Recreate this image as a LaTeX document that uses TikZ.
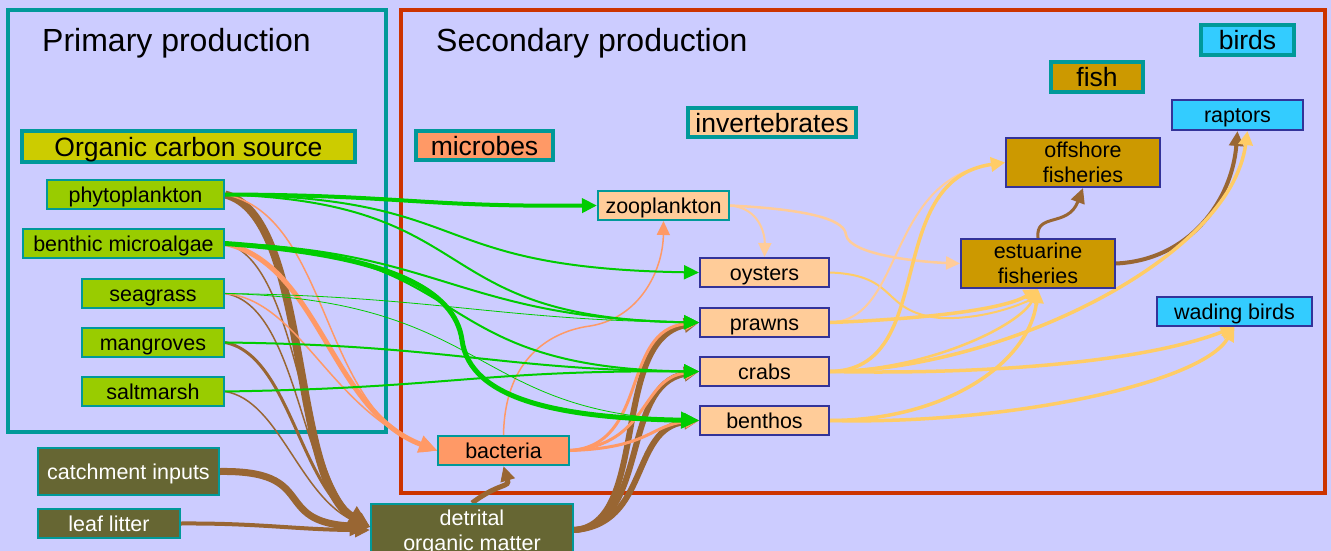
\documentclass[tikz,border=0pt]{standalone}
\usepackage{fontspec}
\setmainfont{Liberation Sans}
\usetikzlibrary{arrows.meta}
\definecolor{bgc}{HTML}{CCCCFF}
\definecolor{tealc}{HTML}{009999}
\definecolor{redc}{HTML}{CC3300}
\definecolor{srcg}{HTML}{99CC00}
\definecolor{ocsc}{HTML}{CCCC00}
\definecolor{salm}{HTML}{FF9966}
\definecolor{peach}{HTML}{FFCC99}
\definecolor{fishc}{HTML}{CC9900}
\definecolor{birdc}{HTML}{33CCFF}
\definecolor{olivc}{HTML}{666633}
\definecolor{bluec}{HTML}{333399}
\definecolor{greenl}{HTML}{00CC00}
\definecolor{brownl}{HTML}{996633}
\definecolor{yell}{HTML}{FFCC66}
\pgfdeclarelayer{frames}
\pgfdeclarelayer{edges}
\pgfsetlayers{frames,edges,main}
\tikzset{
  nd/.style={draw, line width=2pt, inner sep=0pt, text=black, align=center,
    font=\fontsize{21.5}{25}\selectfont},
  one/.style={text height=15.5pt, text depth=0pt},
  src/.style={nd, one, fill=srcg, draw=tealc},
  ext/.style={nd, fill=olivc, draw=tealc, text=white},
  mic/.style={nd, one, fill=salm, draw=tealc},
  inv/.style={nd, one, fill=peach, draw=bluec},
  fsh/.style={nd, fill=fishc, draw=bluec},
  brd/.style={nd, one, fill=birdc, draw=bluec},
  cat/.style={draw=tealc, line width=3.5pt, inner sep=0pt, text=black,
    font=\fontsize{26.5}{30}\selectfont, text height=19pt, text depth=0pt},
  head/.style={inner sep=0pt, anchor=west, font=\fontsize{32}{38}\selectfont,
    text height=23pt, text depth=0pt},
  gE/.style={draw=greenl, line width=2pt, -{Triangle[length=15pt,width=14pt]}},
  sE/.style={draw=salm, line width=2pt, -{Triangle[length=14pt,width=13pt]}},
  bE/.style={draw=brownl, line width=3pt, -{Triangle[length=15pt,width=14pt]}},
  yE/.style={draw=yell, line width=3.5pt, -{Triangle[length=14pt,width=14pt]}},
  pE/.style={draw=peach, line width=2.5pt, -{Triangle[length=14pt,width=13pt]}},
}
\begin{document}
\begin{tikzpicture}[x=1pt,y=-1pt]
\useasboundingbox (0,0) rectangle (1331,551);

% nodes
\node[head] (hprim) at (42,40) {Primary production};
\node[head] (hsec) at (436,40) {Secondary production};
\node[cat, fill=ocsc, minimum width=333pt, minimum height=31pt] (ocs) at (188.5,146.5) {Organic carbon source};
\node[cat, fill=salm, minimum width=137pt, minimum height=29pt] (microbes) at (484.5,145.5) {microbes};
\node[cat, fill=peach, minimum width=168pt, minimum height=29pt] (invert) at (772,122.5) {invertebrates};
\node[cat, fill=fishc, minimum width=92pt, minimum height=30pt] (fishl) at (1097,77) {fish};
\node[cat, fill=birdc, minimum width=93pt, minimum height=30pt] (birdsl) at (1247.5,40) {birds};

\node[src, minimum width=177pt, minimum height=29pt] (phyto) at (135.5,194.5) {phytoplankton};
\node[src, minimum width=201pt, minimum height=29pt] (micro) at (123.5,243.5) {benthic microalgae};
\node[src, minimum width=142pt, minimum height=29pt] (seag) at (153,293.5) {seagrass};
\node[src, minimum width=142pt, minimum height=29pt] (mang) at (153,342.5) {mangroves};
\node[src, minimum width=142pt, minimum height=29pt] (salt) at (153,391.5) {saltmarsh};
\node[ext, one, minimum width=181pt, minimum height=47pt] (catch) at (128.5,471.5) {catchment inputs};
\node[ext, one, minimum width=142pt, minimum height=29pt] (leaf) at (109,523.5) {leaf litter};
\node[ext, minimum width=202pt, minimum height=56pt] (detr) at (472,532) {detrital\\organic matter};
\node[mic, minimum width=131pt, minimum height=29pt] (bact) at (503.5,450.5) {bacteria};
\node[nd, one, fill=peach, draw=tealc, minimum width=131pt, minimum height=29pt] (zoo) at (663.5,205.5) {zooplankton};
\node[inv, minimum width=129pt, minimum height=29pt] (oyst) at (764.5,272.5) {oysters};
\node[inv, minimum width=129pt, minimum height=29pt] (prawn) at (764.5,322.5) {prawns};
\node[inv, minimum width=129pt, minimum height=29pt] (crab) at (764.5,371.5) {crabs};
\node[inv, minimum width=129pt, minimum height=29pt] (benth) at (764.5,420.5) {benthos};
\node[fsh, minimum width=154pt, minimum height=49pt] (est) at (1038,263.5) {estuarine\\fisheries};
\node[fsh, minimum width=154pt, minimum height=49pt] (off) at (1083,162.5) {offshore\\fisheries};
\node[brd, minimum width=131pt, minimum height=30pt] (rapt) at (1237.5,115) {raptors};
\node[brd, minimum width=155pt, minimum height=29pt] (wade) at (1234.5,311.5) {wading birds};

\begin{pgfonlayer}{frames}
\fill[bgc] (0,0) rectangle (1331,551);
\draw[tealc, line width=4pt] (8,10) rectangle (386,432);
\draw[redc, line width=3.5pt] (401,10) rectangle (1325,493);
\end{pgfonlayer}

\begin{pgfonlayer}{edges}
% brown to detritus
\draw[bE, line width=8pt, -{Triangle[length=22pt,width=21pt]}] (phyto.east) .. controls (310,215) and (290,480) .. ([yshift=5pt]detr.west);
\draw[bE, line width=1.5pt] (micro.east) .. controls (300,260) and (300,480) .. ([yshift=5pt]detr.west);
\draw[bE, line width=1.5pt] (seag.east) .. controls (300,305) and (300,490) .. ([yshift=5pt]detr.west);
\draw[bE, line width=3pt] (mang.east) .. controls (290,355) and (300,490) .. ([yshift=5pt]detr.west);
\draw[bE, line width=1.5pt] (salt.east) .. controls (280,400) and (300,500) .. ([yshift=5pt]detr.west);
\draw[bE, line width=7pt, -{Triangle[length=20pt,width=19pt]}] (catch.east) .. controls (320,470) and (270,522) .. ([yshift=5pt]detr.west);
\draw[bE, line width=4pt] (leaf.east) .. controls (260,523) and (300,530) .. ([yshift=2pt]detr.west);
\draw[bE, line width=5pt] (detr.north) .. controls (500,482) and (510,488) .. (bact.south);
\draw[bE, line width=6pt] ([yshift=2pt]detr.east) .. controls (650,525) and (610,340) .. (prawn.west);
\draw[bE, line width=6pt] ([yshift=2pt]detr.east) .. controls (650,525) and (620,385) .. (crab.west);
\draw[bE, line width=6pt] ([yshift=2pt]detr.east) .. controls (650,525) and (630,428) .. (benth.west);
\draw[bE] (est.north) .. controls (1035,212) and (1068,228) .. (off.south);
\draw[bE, line width=4pt] (est.east) .. controls (1190,260) and (1232,200) .. (rapt.south);

% salmon
\draw[sE, line width=1.5pt] (phyto.east) .. controls (330,215) and (320,410) .. (bact.west);
\draw[sE, line width=5pt, -{Triangle[length=18pt,width=17pt]}] (micro.east) .. controls (320,265) and (330,410) .. (bact.west);
\draw[sE, line width=1.5pt] (seag.east) .. controls (300,300) and (330,410) .. (bact.west);
\draw[sE, line width=1.5pt] (bact.north) .. controls (505,350) and (560,330) .. (590,326) .. controls (640,318) and (663,270) .. (zoo.south);
\draw[sE, line width=3pt] (bact.east) .. controls (650,445) and (620,330) .. (prawn.west);
\draw[sE, line width=3pt] (bact.east) .. controls (650,445) and (640,378) .. (crab.west);
\draw[sE, line width=3pt] (bact.east) .. controls (650,448) and (650,425) .. (benth.west);

% green
\draw[gE, line width=4pt] (phyto.east) .. controls (400,195) and (420,207) .. (zoo.west);
\draw[gE] (phyto.east) .. controls (480,198) and (420,268) .. (oyst.west);
\draw[gE] (phyto.east) .. controls (490,203) and (420,318) .. (prawn.west);
\draw[gE] (micro.east) .. controls (440,250) and (460,318) .. (prawn.west);
\draw[gE] (micro.east) .. controls (480,250) and (420,368) .. (crab.west);
\draw[gE, line width=5pt, -{Triangle[length=18pt,width=16pt]}] (micro.east) .. controls (390,255) and (455,290) .. (462,340) .. controls (470,400) and (560,418) .. (benth.west);
\draw[gE, line width=0.8pt] (seag.east) .. controls (430,296) and (500,320) .. (prawn.west);
\draw[gE, line width=0.8pt] (seag.east) .. controls (490,300) and (470,412) .. (benth.west);
\draw[gE] (mang.east) .. controls (450,345) and (500,370) .. (crab.west);
\draw[gE] (salt.east) .. controls (450,388) and (480,370) .. (crab.west);

% yellow / peach
\draw[pE, line width=2pt] (zoo.east) .. controls (760,208) and (765,235) .. (oyst.north);
\draw[pE] (zoo.east) .. controls (820,210) and (845,222) .. (846,235) .. controls (850,255) and (920,262) .. (est.west);
\draw[yE, line width=2pt] (oyst.east) .. controls (900,275) and (880,312) .. (940,318) .. controls (990,320) and (1030,300) .. (est.south);
\draw[pE, line width=2pt] (prawn.east) .. controls (905,320) and (885,180) .. (off.west);
\draw[yE] (prawn.east) .. controls (900,320) and (1000,312) .. (est.south);
\draw[yE] (crab.east) .. controls (940,370) and (880,180) .. (off.west);
\draw[yE, line width=2.5pt] (crab.east) .. controls (930,370) and (1020,325) .. (est.south);
\draw[yE] (crab.east) .. controls (1000,370) and (1230,260) .. ([xshift=10pt]rapt.south);
\draw[yE] (crab.east) .. controls (1000,375) and (1150,360) .. (wade.south);
\draw[yE] (benth.east) .. controls (950,420) and (1030,360) .. (est.south);
\draw[yE] (benth.east) .. controls (1000,425) and (1200,385) .. (wade.south);
\end{pgfonlayer}
\end{tikzpicture}
\end{document}
